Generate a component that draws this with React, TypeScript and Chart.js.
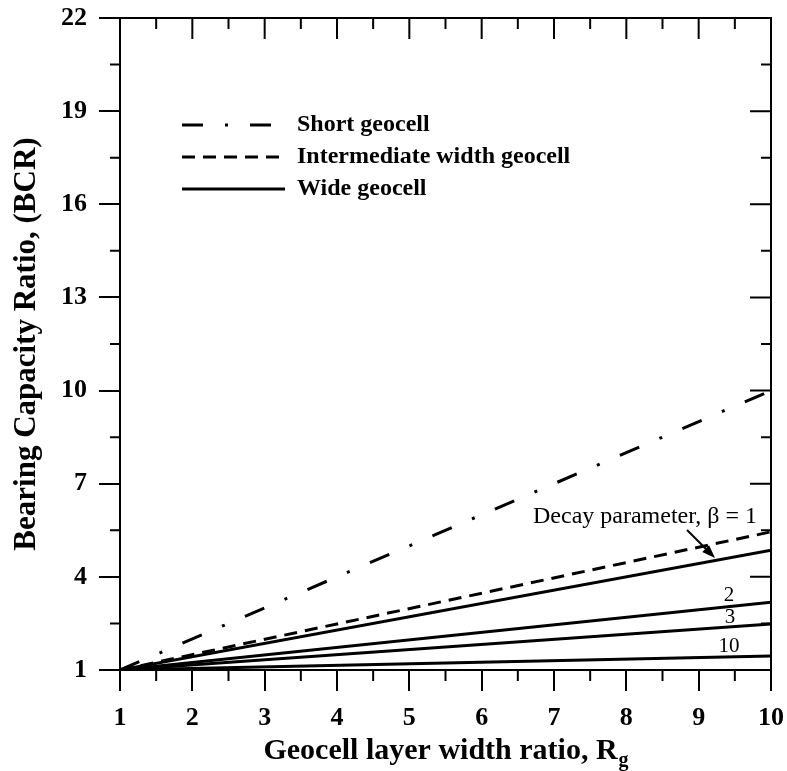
import React, { useEffect, useRef } from "react";
import { Chart, registerables } from "chart.js";

Chart.register(...registerables);

const xEnds = [1, 10];
const shortGeocell = [1, 10];
const intermediateGeocell = [1, 5.45];
const wideBeta1 = [1, 4.86];
const wideBeta2 = [1, 3.18];
const wideBeta3 = [1, 2.48];
const wideBeta10 = [1, 1.45];

const xTicks = [1, 2, 3, 4, 5, 6, 7, 8, 9, 10];
const yTicks = [1, 4, 7, 10, 13, 16, 19, 22];
const xMinor = [1.5, 2.5, 3.5, 4.5, 5.5, 6.5, 7.5, 8.5, 9.5];
const yMinor = [2.5, 5.5, 8.5, 11.5, 14.5, 17.5, 20.5];

const legendLabels = ["Short geocell", "Intermediate width geocell", "Wide geocell"];
const betaLabels = ["2", "3", "10"];

const SERIF = '"Liberation Serif", "Times New Roman", Times, serif';
const DASH_DOT = [21, 22, 3, 22];
const DASH = [13, 8];

const pts = (ys: number[]) => xEnds.map((x, i) => ({ x, y: ys[i] }));

const decor = {
  id: "decor",
  afterDraw(chart: any) {
    const { ctx, chartArea: a, scales } = chart;
    const x = scales.x;
    const y = scales.y;
    ctx.save();
    ctx.strokeStyle = "#000";
    ctx.fillStyle = "#000";
    ctx.lineWidth = 2;
    ctx.setLineDash([]);
    ctx.lineCap = "butt";
    // top & right frame
    ctx.beginPath();
    ctx.moveTo(a.left - 1, a.top);
    ctx.lineTo(a.right, a.top);
    ctx.lineTo(a.right, a.bottom + 1);
    ctx.stroke();
    // inward ticks on top/right, minor ticks
    ctx.beginPath();
    xTicks.forEach((v) => {
      const px = x.getPixelForValue(v);
      ctx.moveTo(px, a.top);
      ctx.lineTo(px, a.top + 21);
    });
    xMinor.forEach((v) => {
      const px = x.getPixelForValue(v);
      ctx.moveTo(px, a.top);
      ctx.lineTo(px, a.top + 11);
      ctx.moveTo(px, a.bottom);
      ctx.lineTo(px, a.bottom + 11);
    });
    yTicks.forEach((v) => {
      const py = y.getPixelForValue(v);
      ctx.moveTo(a.right, py);
      ctx.lineTo(a.right - 21, py);
    });
    yMinor.forEach((v) => {
      const py = y.getPixelForValue(v);
      ctx.moveTo(a.right, py);
      ctx.lineTo(a.right - 10, py);
      ctx.moveTo(a.left, py);
      ctx.lineTo(a.left - 10, py);
    });
    ctx.stroke();

    // legend
    const rows = [125, 157, 189];
    const dashes = [DASH_DOT, DASH, []];
    const lx0 = 182;
    const lx1 = 285;
    ctx.lineWidth = 3;
    rows.forEach((ry, i) => {
      ctx.setLineDash(dashes[i]);
      ctx.beginPath();
      ctx.moveTo(lx0, ry);
      ctx.lineTo(lx1, ry);
      ctx.stroke();
    });
    ctx.setLineDash([]);
    ctx.font = `bold 24px ${SERIF}`;
    ctx.textAlign = "left";
    ctx.textBaseline = "middle";
    rows.forEach((ry, i) => ctx.fillText(legendLabels[i], 297, ry));

    // annotations
    ctx.font = `24px ${SERIF}`;
    ctx.textBaseline = "alphabetic";
    ctx.fillText("Decay parameter, \u03b2 = 1", 533, 523);
    ctx.font = `21px ${SERIF}`;
    ctx.textAlign = "center";
    ctx.textBaseline = "middle";
    const bx = x.getPixelForValue(9.42);
    ctx.fillText(betaLabels[0], bx, 595);
    ctx.fillText(betaLabels[1], bx + 1, 617);
    ctx.fillText(betaLabels[2], bx, 646);

    // arrow
    const ax0 = 687, ay0 = 530, ax1 = 715, ay1 = 558;
    ctx.lineWidth = 2;
    ctx.beginPath();
    ctx.moveTo(ax0, ay0);
    ctx.lineTo(ax1 - 6, ay1 - 6);
    ctx.stroke();
    const ang = Math.atan2(ay1 - ay0, ax1 - ax0);
    ctx.beginPath();
    ctx.moveTo(ax1, ay1);
    ctx.lineTo(ax1 - 14 * Math.cos(ang - 0.35), ay1 - 14 * Math.sin(ang - 0.35));
    ctx.lineTo(ax1 - 14 * Math.cos(ang + 0.35), ay1 - 14 * Math.sin(ang + 0.35));
    ctx.closePath();
    ctx.fill();

    // x title with subscript
    const main = "Geocell layer width ratio, R";
    ctx.font = `bold 30px ${SERIF}`;
    const w1 = ctx.measureText(main).width;
    ctx.font = `bold 20px ${SERIF}`;
    const w2 = ctx.measureText("g").width;
    const cx = (a.left + a.right) / 2;
    const sx = cx - (w1 + w2) / 2;
    ctx.textAlign = "left";
    ctx.textBaseline = "alphabetic";
    ctx.font = `bold 30px ${SERIF}`;
    ctx.fillText(main, sx, 759);
    ctx.font = `bold 20px ${SERIF}`;
    ctx.fillText("g", sx + w1 + 1, 766);
    ctx.restore();
  },
};

export default function App() {
  const ref = useRef<HTMLCanvasElement | null>(null);
  useEffect(() => {
    document.body.style.margin = "0";
    if (!ref.current) return;
    const base = { pointRadius: 0, borderColor: "#000", borderWidth: 3, fill: false, tension: 0 };
    const chart = new Chart(ref.current, {
      type: "line",
      data: {
        datasets: [
          { ...base, label: legendLabels[0], data: pts(shortGeocell), borderDash: DASH_DOT },
          { ...base, label: legendLabels[1], data: pts(intermediateGeocell), borderDash: DASH },
          { ...base, label: "β = 1", data: pts(wideBeta1) },
          { ...base, label: "β = 2", data: pts(wideBeta2) },
          { ...base, label: "β = 3", data: pts(wideBeta3) },
          { ...base, label: "β = 10", data: pts(wideBeta10) },
        ],
      },
      options: {
        responsive: false,
        animation: false,
        events: [],
        layout: { padding: { top: 18, right: 16, left: 0, bottom: 0 } },
        plugins: { legend: { display: false }, tooltip: { enabled: false } },
        scales: {
          x: {
            type: "linear",
            min: 1,
            max: 10,
            afterBuildTicks: (s: any) => {
              s.ticks = xTicks.map((v) => ({ value: v }));
            },
            afterFit: (s: any) => {
              s.height = 101;
              s.paddingLeft = 0;
              s.paddingRight = 0;
              s.paddingTop = 0;
              s.paddingBottom = 0;
            },
            grid: { display: true, drawOnChartArea: false, drawTicks: true, tickLength: 21, color: "#000", lineWidth: 2 },
            border: { display: true, color: "#000", width: 2 },
            ticks: { color: "#000", padding: 12, maxRotation: 0, autoSkip: false, font: { family: SERIF, size: 26, weight: "bold" } },
            title: { display: false },
          },
          y: {
            type: "linear",
            min: 1,
            max: 22,
            afterBuildTicks: (s: any) => {
              s.ticks = yTicks.map((v) => ({ value: v }));
            },
            afterFit: (s: any) => {
              s.width = 120;
              s.paddingLeft = 0;
              s.paddingRight = 0;
              s.paddingTop = 0;
              s.paddingBottom = 0;
            },
            grid: { display: true, drawOnChartArea: false, drawTicks: true, tickLength: 21, color: "#000", lineWidth: 2 },
            border: { display: true, color: "#000", width: 2 },
            ticks: { color: "#000", padding: 12, autoSkip: false, font: { family: SERIF, size: 26, weight: "bold" } },
            title: {
              display: true,
              text: "Bearing Capacity Ratio, (BCR)",
              color: "#000",
              padding: { top: 8, bottom: 0 },
              font: { family: SERIF, size: 31, weight: "bold" },
            },
          },
        },
      },
      plugins: [decor],
    } as any);
    return () => chart.destroy();
  }, []);
  return <canvas ref={ref} width={787} height={771} style={{ display: "block" }} />;
}
